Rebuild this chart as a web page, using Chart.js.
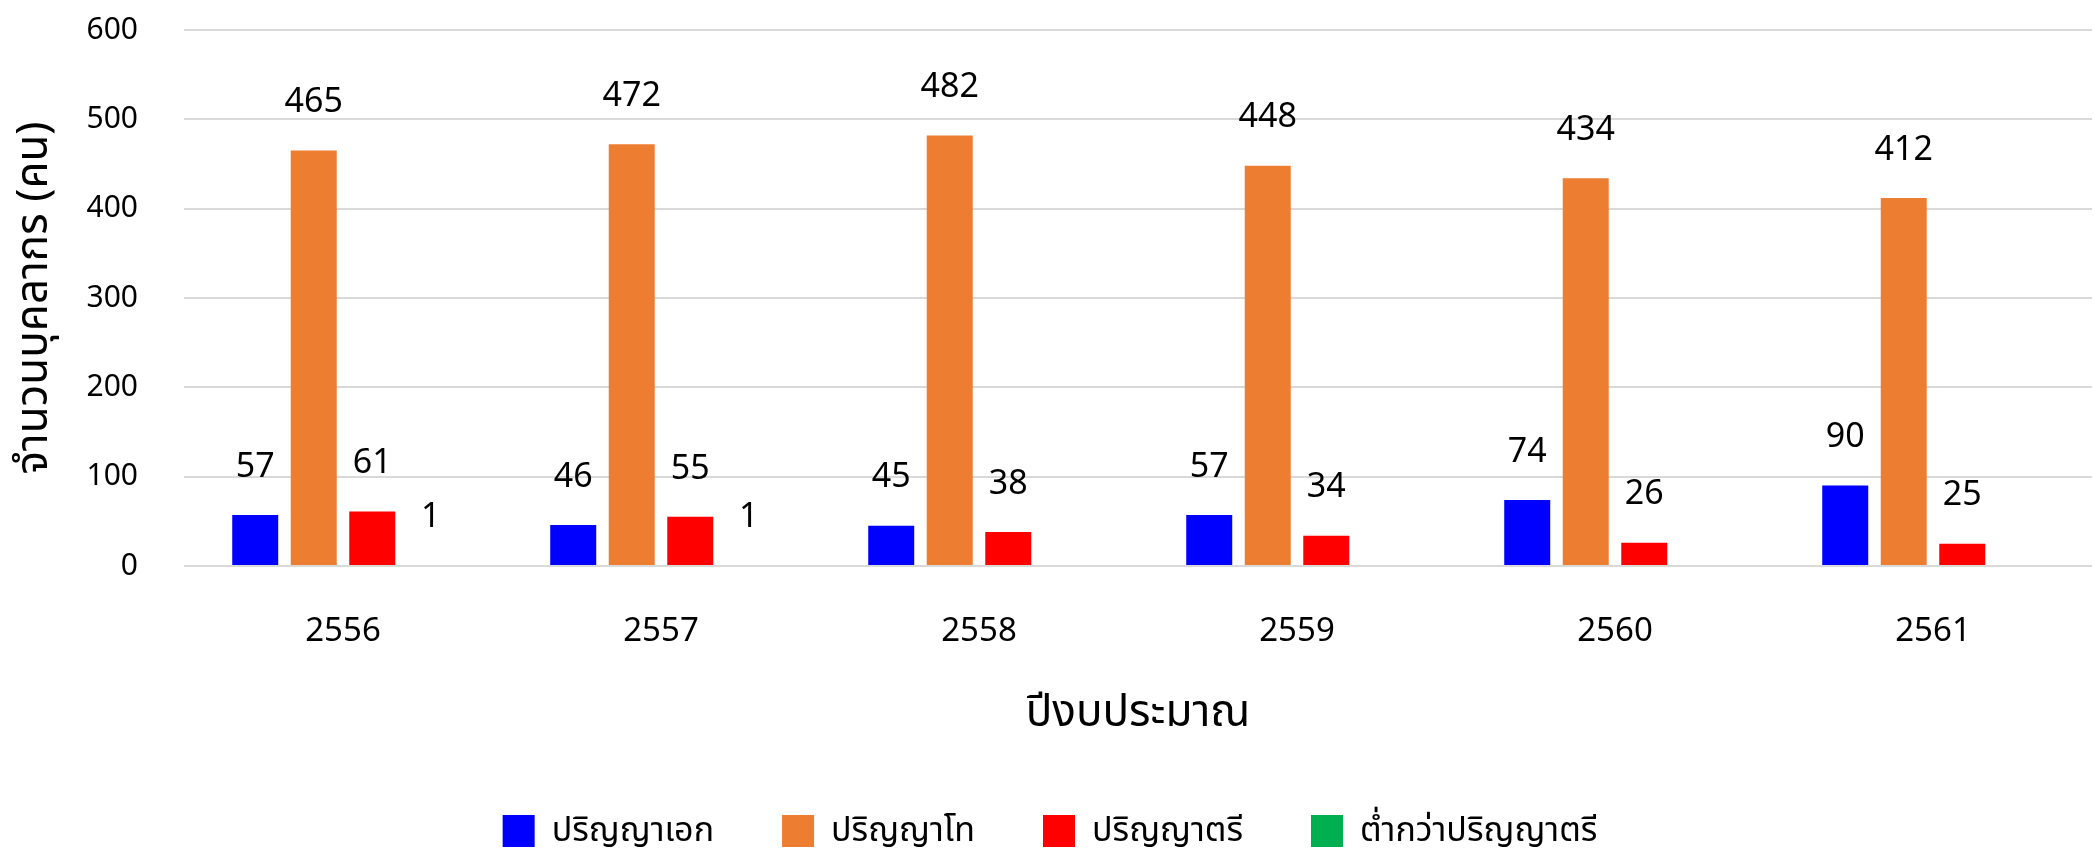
<!DOCTYPE html>
<html>
<head>
<meta charset="utf-8">
<script src="https://cdn.jsdelivr.net/npm/chart.js@4"></script>
<style>
  html, body { margin: 0; padding: 0; background: #fff; }
  canvas { display: block; }
</style>
</head>
<body>
<canvas id="chart" width="2094" height="852"></canvas>
<script>
const years = ["2556", "2557", "2558", "2559", "2560", "2561"];
const doctorate = [57, 46, 45, 57, 74, 90];
const masters = [465, 472, 482, 448, 434, 412];
const bachelors = [61, 55, 38, 34, 26, 25];
const belowBachelors = [1, 1, null, null, null, null];
const yTicks = [0, 100, 200, 300, 400, 500, 600];

const FONT = '"Noto Sans", "Noto Sans Thai", sans-serif';

// value labels above each bar
const barLabels = {
  id: "barLabels",
  afterDatasetsDraw(chart) {
    const ctx = chart.ctx;
    ctx.save();
    ctx.font = "34px " + FONT;
    ctx.fillStyle = "#000";
    ctx.textAlign = "center";
    ctx.textBaseline = "middle";
    chart.data.datasets.forEach((ds, i) => {
      chart.getDatasetMeta(i).data.forEach((bar, j) => {
        const v = ds.data[j];
        if (v === null || v === undefined) return;
        ctx.fillText(String(v), bar.x, bar.y - 48);
      });
    });
    ctx.restore();
  },
};

const makeSet = (label, data, color) => ({
  label: label,
  data: data,
  backgroundColor: color,
  borderWidth: 0,
  barPercentage: 0.786,
  categoryPercentage: 0.736,
});

new Chart(document.getElementById("chart"), {
  type: "bar",
  data: {
    labels: years,
    datasets: [
      makeSet("ปริญญาเอก", doctorate, "#0000ff"),
      makeSet("ปริญญาโท", masters, "#ed7d31"),
      makeSet("ปริญญาตรี", bachelors, "#ff0000"),
      makeSet("ต่ำกว่าปริญญาตรี", belowBachelors, "#00b050"),
    ],
  },
  options: {
    responsive: false,
    animation: false,
    layout: { padding: { top: 0, left: 8, right: 2, bottom: -6 } },
    plugins: {
      legend: {
        position: "bottom",
        labels: {
          boxWidth: 32,
          boxHeight: 32,
          padding: 68,
          color: "#000",
          font: { size: 34, family: FONT, lineHeight: 1 },
        },
      },
      tooltip: { enabled: false },
    },
    scales: {
      x: {
        grid: { display: false },
        border: { display: false },
        afterFit: (axis) => {
          axis.height = 180;
        },
        ticks: {
          color: "#000",
          padding: 38,
          font: { size: 33, family: FONT },
        },
        title: {
          display: true,
          text: "ปีงบประมาณ",
          color: "#000",
          padding: { top: 0, bottom: 6 },
          font: { size: 44, family: FONT },
        },
      },
      y: {
        min: 0,
        max: 600,
        afterBuildTicks: (axis) => {
          axis.ticks = yTicks.map((v) => ({ value: v }));
        },
        afterFit: (axis) => {
          axis.width = 176;
          axis.paddingTop = 30;
          axis.paddingBottom = 0;
        },
        grid: { color: "#d9d9d9", lineWidth: 2, drawTicks: false },
        border: { display: false },
        ticks: {
          color: "#000",
          padding: 46,
          font: { size: 30, family: FONT },
        },
        title: {
          display: true,
          text: "จำนวนบุคลากร (คน)",
          color: "#000",
          padding: { top: 0, bottom: 0 },
          font: { size: 44, family: FONT },
        },
      },
    },
  },
  plugins: [barLabels],
});
</script>
</body>
</html>
